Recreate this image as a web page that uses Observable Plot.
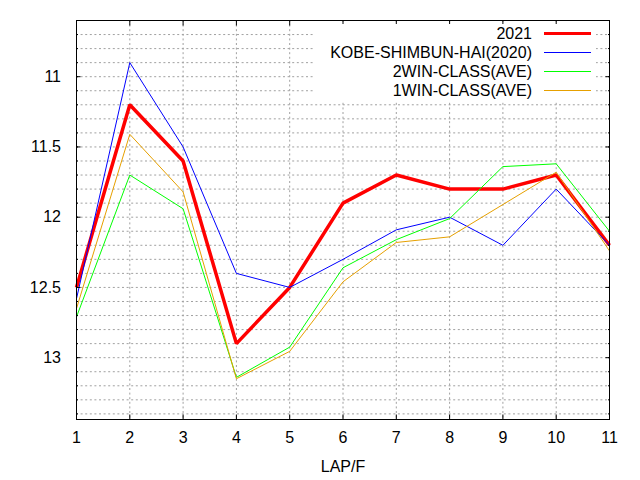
<!DOCTYPE html>
<html>
<head>
<meta charset="utf-8">
<script src="https://cdn.jsdelivr.net/npm/d3@7"></script>
<script src="https://cdn.jsdelivr.net/npm/@observablehq/plot@0.6"></script>
<style>
  html, body { margin: 0; padding: 0; background: #fff; }
  #wrap { position: relative; width: 640px; height: 480px; font-family: "Liberation Sans", Arial, sans-serif; }
  #legend { position: absolute; left: 313px; top: 24px; width: 283px; height: 77px; background: #fff; }
  .row { position: absolute; left: 0; width: 283px; height: 19px; }
  .row span { position: absolute; right: 64px; top: 0; font-size: 16px; line-height: 19px; color: #000; white-space: nowrap; }
  .row i { position: absolute; left: 231px; width: 47px; }
</style>
</head>
<body>
<div id="wrap"><div id="chart"></div><div id="legend"></div></div>
<script>
const laps = [1, 2, 3, 4, 5, 6, 7, 8, 9, 10, 11];
const y2021 = [12.5, 11.2, 11.6, 12.9, 12.5, 11.9, 11.7, 11.8, 11.8, 11.7, 12.2];
const kobe2020 = [12.58, 10.9, 11.5, 12.4, 12.5, 12.3, 12.09, 12.0, 12.2, 11.8, 12.2];
const win2 = [12.71, 11.7, 11.94, 13.14, 12.925, 12.36, 12.16, 12.01, 11.64, 11.62, 12.1];
const win1 = [12.65, 11.41, 11.82, 13.15, 12.955, 12.46, 12.18, 12.14, 11.91, 11.68, 12.24];

const seriesNames = ["2021", "KOBE-SHIMBUN-HAI(2020)", "2WIN-CLASS(AVE)", "1WIN-CLASS(AVE)"];
const seriesValues = [y2021, kobe2020, win2, win1];
const seriesColors = ["#ff0000", "#0000ff", "#00ff00", "#e6a000"];
const seriesWidths = [3.5, 1, 1, 1];

const xTicks = [1, 2, 3, 4, 5, 6, 7, 8, 9, 10, 11];
const xGrid = [2, 3, 4, 5, 6, 7, 8, 9, 10];
const yTicks = [11, 11.5, 12, 12.5, 13];
const yMinor = [10.7, 10.8, 10.9, 11, 11.1, 11.2, 11.3, 11.4, 11.5, 11.6, 11.7, 11.8, 11.9, 12,
  12.1, 12.2, 12.3, 12.4, 12.5, 12.6, 12.7, 12.8, 12.9, 13, 13.1, 13.2, 13.3, 13.4];

const rows = [];
seriesNames.forEach((name, s) => {
  laps.forEach((lap, i) => rows.push({series: name, lap, time: seriesValues[s][i]}));
});

const gridStyle = {stroke: "#a0a0a0", strokeOpacity: 1, strokeDasharray: "2,2.6", strokeWidth: 1};
const noText = () => "";
const plain = d => String(d);

const chart = Plot.plot({
  width: 640,
  height: 480,
  marginLeft: 76,
  marginRight: 31,
  marginTop: 20,
  marginBottom: 61,
  style: {fontFamily: "'Liberation Sans', Arial, sans-serif", fontSize: "16px", color: "#000", background: "#fff"},
  x: {type: "linear", domain: [1, 11]},
  y: {type: "linear", domain: [10.6, 13.44], reverse: true},
  marks: [
    Plot.gridY(yMinor, gridStyle),
    Plot.gridX(xGrid, gridStyle),
    ...seriesNames.map((name, s) =>
      Plot.line(rows.filter(d => d.series === name), {
        x: "lap", y: "time",
        stroke: seriesColors[s], strokeWidth: seriesWidths[s],
        strokeLinejoin: "miter", strokeLinecap: "butt"
      })
    ),
    Plot.frame({stroke: "#000", strokeWidth: 1}),
    Plot.axisX(xTicks, {anchor: "bottom", tickSize: -4.5, tickPadding: 16.5, fontSize: 16, tickFormat: plain,
      label: "LAP/F", labelAnchor: "center", labelArrow: "none", labelOffset: 52}),
    Plot.axisX(xTicks, {anchor: "top", tickSize: -4.5, tickFormat: noText, label: null}),
    Plot.axisY(yTicks, {anchor: "left", tickSize: -4.5, tickPadding: 20, fontSize: 16, tickFormat: plain, label: null}),
    Plot.axisY(yTicks, {anchor: "right", tickSize: -4.5, tickFormat: noText, label: null}),
    Plot.axisY(yMinor, {anchor: "left", tickSize: -2, tickFormat: noText, label: null}),
    Plot.axisY(yMinor, {anchor: "right", tickSize: -2, tickFormat: noText, label: null})
  ]
});
document.getElementById("chart").appendChild(chart);

const legend = document.getElementById("legend");
seriesNames.forEach((name, s) => {
  const row = document.createElement("div");
  row.className = "row";
  row.style.top = (9.3 + 19 * s - 9.5) + "px";
  const span = document.createElement("span");
  span.textContent = name;
  const line = document.createElement("i");
  line.style.height = seriesWidths[s] + "px";
  line.style.top = (9.5 - seriesWidths[s] / 2) + "px";
  line.style.background = seriesColors[s];
  row.appendChild(span);
  row.appendChild(line);
  legend.appendChild(row);
});
</script>
</body>
</html>
